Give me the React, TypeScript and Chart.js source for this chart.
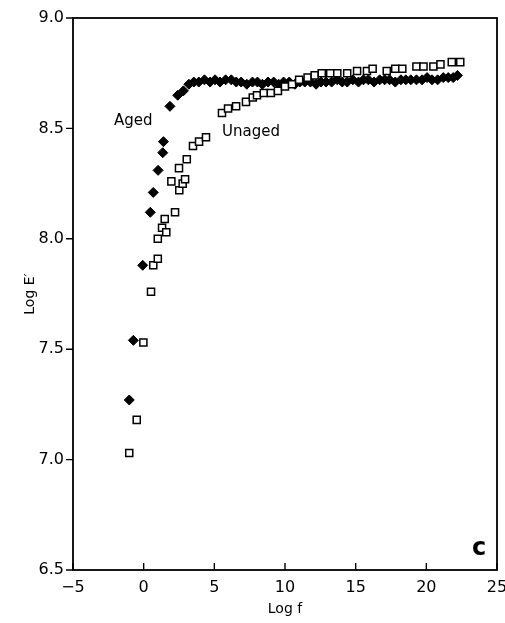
import React, { useEffect, useRef } from "react";
import { Chart, registerables } from "chart.js";
Chart.register(...registerables);

// Aged (filled diamonds): log f vs log E'
const AGED_X = [-1.02, -0.73, -0.07, 0.47, 0.68, 1.02, 1.35, 1.40, 1.86, 2.41, 2.81,
  3.2, 3.55, 3.9, 4.3, 4.7, 5.05, 5.4, 5.8, 6.2, 6.55, 6.9, 7.3, 7.7, 8.05, 8.4, 8.8, 9.2,
  9.55, 9.9, 10.3, 10.7, 11.05, 11.4, 11.8, 12.2, 12.55, 12.9, 13.3, 13.7, 14.05, 14.4,
  14.8, 15.2, 15.55, 15.9, 16.3, 16.7, 17.05, 17.4, 17.8, 18.2, 18.55, 18.9, 19.3, 19.7,
  20.05, 20.4, 20.8, 21.2, 21.55, 21.9, 22.2];
const AGED_Y = [7.27, 7.54, 7.88, 8.12, 8.21, 8.31, 8.39, 8.44, 8.60, 8.65, 8.67,
  8.70, 8.71, 8.71, 8.72, 8.71, 8.72, 8.71, 8.72, 8.72, 8.71, 8.71, 8.70, 8.71, 8.71,
  8.70, 8.71, 8.71, 8.70, 8.71, 8.71, 8.70, 8.71, 8.71, 8.71, 8.70, 8.71, 8.71, 8.71,
  8.72, 8.71, 8.71, 8.72, 8.71, 8.72, 8.72, 8.71, 8.72, 8.72, 8.72, 8.71, 8.72, 8.72,
  8.72, 8.72, 8.72, 8.73, 8.72, 8.72, 8.73, 8.73, 8.73, 8.74];

// Unaged (open squares)
const UNAGED_X = [-1.02, -0.49, -0.02, 0.52, 0.68, 1.0, 1.0, 1.30, 1.49, 1.60, 1.96, 2.22,
  2.50, 2.52, 2.76, 2.93, 3.05, 3.49, 3.92, 4.41, 5.54, 5.97, 6.54, 7.24, 7.72, 8.02,
  8.5, 9.0, 9.5, 10.0, 10.5, 11.0, 11.6, 12.1, 12.6, 13.2, 13.7, 14.4, 15.1, 15.8, 16.2,
  17.2, 17.8, 18.3, 19.3, 19.8, 20.5, 21.0, 21.8, 22.4];
const UNAGED_Y = [7.03, 7.18, 7.53, 7.76, 7.88, 7.91, 8.00, 8.05, 8.09, 8.03, 8.26, 8.12,
  8.32, 8.22, 8.25, 8.27, 8.36, 8.42, 8.44, 8.46, 8.57, 8.59, 8.60, 8.62, 8.64, 8.65,
  8.66, 8.66, 8.67, 8.69, 8.70, 8.72, 8.73, 8.74, 8.75, 8.75, 8.75, 8.75, 8.76, 8.76,
  8.77, 8.76, 8.77, 8.77, 8.78, 8.78, 8.78, 8.79, 8.80, 8.80];

const X_TICKS = [-5, 0, 5, 10, 15, 20, 25];
const Y_TICKS = [6.5, 7.0, 7.5, 8.0, 8.5, 9.0];

const FONT = "'DejaVu Sans', sans-serif";

const framePlugin = {
  id: "framePlugin",
  afterDraw(chart: any) {
    const { ctx, chartArea } = chart;
    const { left, right, top, bottom } = chartArea;
    const xs = chart.scales.x;
    const ys = chart.scales.y;
    ctx.save();
    ctx.strokeStyle = "#000";
    ctx.lineWidth = 1.8;
    ctx.strokeRect(left, top, right - left, bottom - top);
    ctx.lineWidth = 1.4;
    ctx.beginPath();
    Y_TICKS.forEach((v) => {
      const py = ys.getPixelForValue(v);
      ctx.moveTo(left - 7, py);
      ctx.lineTo(left, py);
    });
    X_TICKS.forEach((v) => {
      const px = xs.getPixelForValue(v);
      ctx.moveTo(px, bottom);
      ctx.lineTo(px, bottom - 7);
    });
    ctx.stroke();
    ctx.fillStyle = "#000";
    ctx.textBaseline = "middle";
    ctx.textAlign = "left";
    ctx.font = `15px ${FONT}`;
    ctx.fillText("Aged", 114, 121);
    ctx.fillText("Unaged", 222, 132);
    ctx.font = `bold 24px ${FONT}`;
    ctx.textAlign = "center";
    ctx.fillText("c", 479, 549);
    ctx.restore();
  },
};

export default function App() {
  const ref = useRef<HTMLCanvasElement | null>(null);
  useEffect(() => {
    if (!ref.current) return;
    const chart = new Chart(ref.current, {
      type: "scatter",
      data: {
        datasets: [
          {
            label: "Unaged",
            data: UNAGED_X.map((x, i) => ({ x, y: UNAGED_Y[i] })),
            pointStyle: "rect",
            pointRadius: 5,
            backgroundColor: "#fff",
            borderColor: "#000",
            borderWidth: 1.5,
          },
          {
            label: "Aged",
            data: AGED_X.map((x, i) => ({ x, y: AGED_Y[i] })),
            pointStyle: "rectRot",
            pointRadius: 5,
            backgroundColor: "#000",
            borderColor: "#000",
            borderWidth: 1,
          },
        ],
      },
      options: {
        animation: false,
        responsive: false,
        devicePixelRatio: 1,
        layout: { padding: { left: 0, right: 8, top: 18, bottom: 0 } },
        plugins: { legend: { display: false }, tooltip: { enabled: false } },
        scales: {
          x: {
            type: "linear",
            min: -5,
            max: 25,
            afterBuildTicks: (s: any) => {
              s.ticks = X_TICKS.map((v) => ({ value: v }));
            },
            afterFit: (s: any) => {
              s.height = 53;
              s.paddingLeft = 0;
              s.paddingRight = 0;
            },
            grid: { display: false, drawTicks: false },
            border: { display: false },
            ticks: {
              color: "#000",
              font: { family: FONT, size: 16 },
              padding: 8,
              maxRotation: 0,
              callback: (v: any) => (v < 0 ? "\u2212" + Math.abs(v) : String(v)),
            },
            title: {
              display: true,
              text: "Log f",
              color: "#000",
              font: { family: FONT, size: 14 },
              padding: 5,
            },
          },
          y: {
            type: "linear",
            min: 6.5,
            max: 9,
            afterBuildTicks: (s: any) => {
              s.ticks = Y_TICKS.map((v) => ({ value: v }));
            },
            afterFit: (s: any) => {
              s.width = 73;
              s.paddingTop = 0;
              s.paddingBottom = 0;
            },
            grid: { display: false, drawTicks: false },
            border: { display: false },
            ticks: {
              color: "#000",
              font: { family: FONT, size: 16 },
              padding: 9,
              callback: (v: any) => Number(v).toFixed(1),
            },
            title: {
              display: true,
              text: "Log E\u2032",
              color: "#000",
              font: { family: FONT, size: 14 },
              padding: 22,
            },
          },
        },
      },
      plugins: [framePlugin],
    });
    return () => chart.destroy();
  }, []);
  return (
    <div style={{ position: "absolute", left: 0, top: 0, width: 505, height: 623, background: "#fff" }}>
      <canvas ref={ref} width={505} height={623} style={{ display: "block" }} />
    </div>
  );
}
